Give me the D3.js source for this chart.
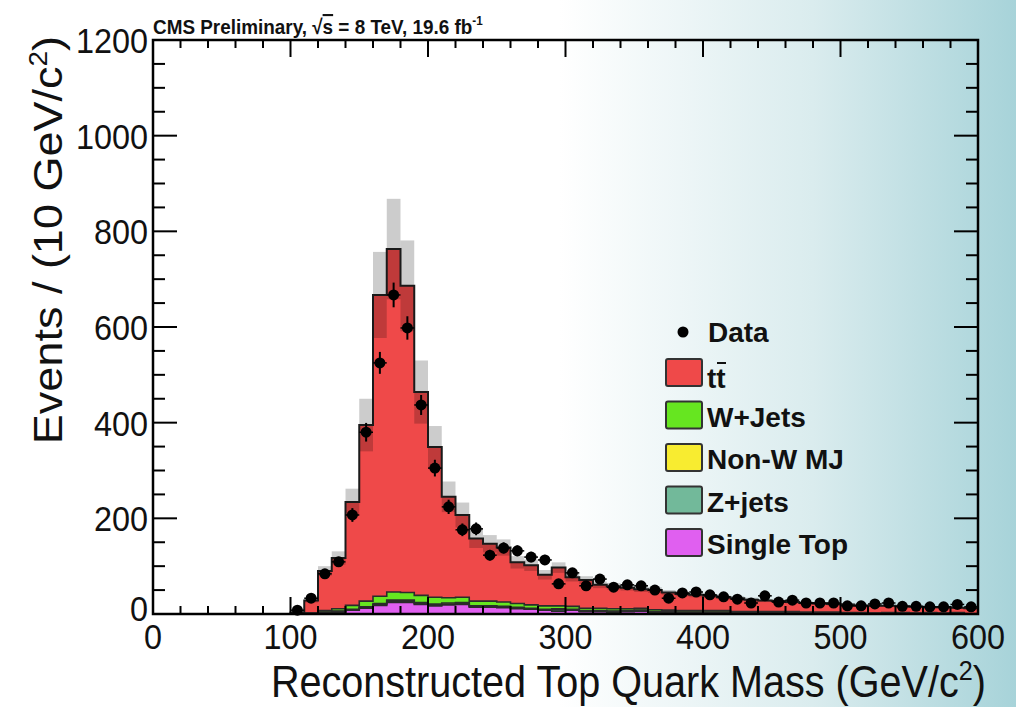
<!DOCTYPE html>
<meta charset="utf-8">
<html>
<head>
<style>
  html, body { margin: 0; padding: 0; background: #fff; }
  svg text { font-family: "Liberation Sans", Arial, Helvetica, sans-serif; }
</style>
</head>
<body>
<div id="chart"></div>
<script src="https://cdn.jsdelivr.net/npm/d3@7"></script>
<script>

// bin lower edges, 10 GeV wide, 100 .. 590
var binLo = d3.range(100, 600, 10);

// stacked MC (events per bin)
var tt = [3, 26, 83, 106, 216, 368, 630, 717, 641, 425,
          314, 211, 172, 131, 120, 114, 86, 83, 65, 80,
          61, 59, 49, 47, 44, 40, 41, 37, 35, 33,
          31, 28, 28, 25, 23, 22, 20, 19, 18, 17,
          17, 15, 15, 14, 13, 13, 11, 12, 10, 11];
var wJets = [0, 1, 3, 5, 8, 12, 15, 17, 16, 15,
             14, 11, 11, 10, 10, 9, 8, 7, 7, 6,
             6, 5, 5, 5, 4, 4, 4, 3, 3, 3,
             3, 3, 2, 2, 2, 2, 2, 2, 2, 2,
             1, 1, 1, 1, 1, 1, 1, 1, 1, 1];
var nonW = [0, 0, 1, 1, 1, 1, 2, 2, 2, 2,
            2, 2, 2, 1, 1, 1, 1, 1, 1, 2,
            1, 1, 1, 1, 1, 1, 1, 1, 1, 1,
            1, 1, 1, 1, 1, 1, 1, 0, 0, 0,
            0, 0, 0, 0, 0, 0, 0, 0, 0, 0];
var zJets = [0, 0, 1, 1, 1, 2, 2, 3, 3, 2,
             2, 2, 2, 2, 2, 2, 2, 1, 1, 3,
             1, 1, 1, 1, 1, 1, 1, 1, 1, 1,
             1, 1, 1, 1, 1, 1, 1, 1, 1, 1,
             1, 1, 1, 1, 1, 1, 1, 1, 1, 0];
var singleTop = [0, 1, 2, 4, 8, 12, 18, 24, 24, 20,
                 17, 19, 20, 14, 14, 13, 11, 10, 8, 6,
                 8, 5, 5, 4, 5, 6, 3, 3, 2, 2,
                 2, 2, 1, 1, 1, 1, 1, 1, 1, 1,
                 1, 1, 0, 1, 1, 0, 1, 0, 1, 0];
// absolute systematic band half-width
var mcUnc = [1, 4, 10, 14, 28, 55, 90, 105, 95, 66,
             44, 32, 26, 20, 18, 17, 13, 12, 10, 11,
             9, 8, 7, 7, 6, 6, 6, 5, 5, 5,
             4, 4, 4, 4, 3, 3, 3, 3, 3, 3,
             2, 2, 2, 2, 2, 2, 2, 2, 2, 2];
// data
var dataVals = [8, 33, 84, 109, 207, 380, 525, 667, 598, 437,
                305, 224, 176, 178, 123, 138, 132, 119, 113, 63,
                86, 59, 73, 56, 61, 59, 50, 33, 44, 46,
                40, 36, 31, 23, 38, 25, 29, 23, 23, 23,
                17, 17, 21, 23, 16, 16, 15, 15, 20, 15];

var xTicks = [0, 100, 200, 300, 400, 500, 600];
var yTicks = [0, 200, 400, 600, 800, 1000, 1200];

var layers = [
  {key: "singleTop", label: "Single Top", color: "#e05ff0"},
  {key: "zJets", label: "Z+jets", color: "#72b99a"},
  {key: "nonW", label: "Non-W MJ", color: "#f8ec30"},
  {key: "wJets", label: "W+Jets", color: "#66e620"},
  {key: "tt", label: "tt", color: "#ef4949"}
];

var width = 1016, height = 707;
var x0 = 153, x1 = 978, yTop = 40, yBot = 614;
var squeeze = 0.9;   // the original picture is narrowed a little

var x = d3.scaleLinear().domain([0, 600]).range([x0, x1]);
var y = d3.scaleLinear().domain([0, 1200]).range([yBot, yTop]);

var rows = binLo.map(function(lo, i) {
  return {lo: lo, hi: lo + 10, singleTop: singleTop[i], zJets: zJets[i],
          nonW: nonW[i], wJets: wJets[i], tt: tt[i]};
});

var svg = d3.select("#chart").append("svg")
    .attr("width", width)
    .attr("height", height);

// background fades to light teal on the right
var grad = svg.append("defs").append("linearGradient")
    .attr("id", "bg").attr("x1", 0).attr("x2", 1).attr("y1", 0).attr("y2", 0);
grad.append("stop").attr("offset", 0.55).attr("stop-color", "#ffffff");
grad.append("stop").attr("offset", 0.8).attr("stop-color", "#daecee");
grad.append("stop").attr("offset", 1).attr("stop-color", "#a7d3d9");
svg.append("rect").attr("width", width).attr("height", height).attr("fill", "url(#bg)");

var stack = d3.stack().keys(layers.map(function(l) { return l.key; }));
var series = stack(rows);

// step points: each bin gives its two edges
function stepPts(s) {
  var pts = [];
  s.forEach(function(d) {
    pts.push({x: d.data.lo, y0: d[0], y1: d[1]});
    pts.push({x: d.data.hi, y0: d[0], y1: d[1]});
  });
  return pts;
}

var area = d3.area()
    .x(function(d) { return x(d.x); })
    .y0(function(d) { return y(d.y0); })
    .y1(function(d) { return y(d.y1); });

var line = d3.line()
    .x(function(d) { return x(d.x); })
    .y(function(d) { return y(d.y1); });

var plot = svg.append("g");

series.forEach(function(s, i) {
  plot.append("path")
      .attr("d", area(stepPts(s)))
      .attr("fill", layers[i].color);
});

// uncertainty band on total MC
var totals = rows.map(function(r) { return r.singleTop + r.zJets + r.nonW + r.wJets + r.tt; });
plot.selectAll("rect.band")
    .data(rows)
    .enter().append("rect")
    .attr("class", "band")
    .attr("x", function(d) { return x(d.lo); })
    .attr("width", function(d) { return x(d.hi) - x(d.lo); })
    .attr("y", function(d, i) { return y(totals[i] + mcUnc[i]); })
    .attr("height", function(d, i) { return y(Math.max(0, totals[i] - mcUnc[i])) - y(totals[i] + mcUnc[i]); })
    .attr("fill", "#000")
    .attr("fill-opacity", 0.2);

// step outlines
series.forEach(function(s, i) {
  var pts = stepPts(s);
  pts.unshift({x: 100, y1: s[0][0]});
  pts.push({x: 600, y1: s[s.length - 1][0]});
  plot.append("path")
      .attr("d", line(pts))
      .attr("fill", "none")
      .attr("stroke", i == 4 ? "#1a1a1a" : "#2b2b2b")
      .attr("stroke-width", i == 4 ? 2 : 1.6);
});

// data points with errors
var dg = plot.append("g");
binLo.forEach(function(lo, i) {
  var v = dataVals[i], cx = x(lo + 5), e = Math.sqrt(v);
  dg.append("line")
      .attr("x1", cx).attr("x2", cx)
      .attr("y1", y(v - e)).attr("y2", y(v + e))
      .attr("stroke", "#000").attr("stroke-width", 2);
  dg.append("line")
      .attr("x1", x(lo)).attr("x2", x(lo + 10))
      .attr("y1", y(v)).attr("y2", y(v))
      .attr("stroke", "#000").attr("stroke-width", 1.5);
  dg.append("circle")
      .attr("cx", cx).attr("cy", y(v)).attr("r", 5.5)
      .attr("fill", "#000");
});

// frame
svg.append("rect")
    .attr("x", x0).attr("y", yTop)
    .attr("width", x1 - x0).attr("height", yBot - yTop)
    .attr("fill", "none").attr("stroke", "#000").attr("stroke-width", 2.5);

// inward ticks, ROOT style
var tk = svg.append("g").attr("stroke", "#000").attr("stroke-width", 2);
d3.range(0, 601, 20).forEach(function(v) {
  var len = v % 100 == 0 ? 17 : 8;
  tk.append("line").attr("x1", x(v)).attr("x2", x(v)).attr("y1", yBot).attr("y2", yBot - len);
  tk.append("line").attr("x1", x(v)).attr("x2", x(v)).attr("y1", yTop).attr("y2", yTop + len);
});
d3.range(0, 1201, 50).forEach(function(v) {
  var len = v % 200 == 0 ? 24 : 12;
  tk.append("line").attr("x1", x0).attr("x2", x0 + len).attr("y1", y(v)).attr("y2", y(v));
  tk.append("line").attr("x1", x1).attr("x2", x1 - len).attr("y1", y(v)).attr("y2", y(v));
});

// horizontal text narrowed like the source picture
function sqText(px, py) {
  return svg.append("g")
      .attr("transform", "translate(" + px + "," + py + ") scale(" + squeeze + ",1)")
      .append("text").attr("fill", "#111");
}

// tick labels
xTicks.forEach(function(d) {
  sqText(x(d), 649)
      .attr("text-anchor", "middle")
      .attr("font-size", 36)
      .text(d);
});
yTicks.forEach(function(d) {
  sqText(148, y(d) + (d == 0 ? 7 : 13))
      .attr("text-anchor", "end")
      .attr("font-size", 36)
      .text(d);
});

// axis titles
var xt = sqText(986, 697)
    .attr("text-anchor", "end")
    .attr("font-size", 44);
xt.append("tspan").text("Reconstructed Top Quark Mass (GeV/c");
xt.append("tspan").attr("font-size", 28).attr("dy", -17).text("2");
xt.append("tspan").attr("dy", 17).text(")");

var yt = svg.append("g")
    .attr("transform", "translate(62,36) scale(" + squeeze + ",1) rotate(-90)")
    .append("text")
    .attr("text-anchor", "end")
    .attr("font-size", 45)
    .attr("fill", "#111");
yt.append("tspan").text("Events / (10 GeV/c");
yt.append("tspan").attr("font-size", 28).attr("dy", -17).text("2");
yt.append("tspan").attr("dy", 17).text(")");

// top label
var tl = sqText(153, 34)
    .attr("font-size", 21)
    .attr("font-weight", "bold");
tl.append("tspan").text("CMS Preliminary, √");
tl.append("tspan").style("text-decoration", "overline").text("s");
tl.append("tspan").text(" = 8 TeV, 19.6 fb");
tl.append("tspan").attr("font-size", 13).attr("dy", -9).text("-1");

// legend
var lg = svg.append("g").attr("transform", "translate(665,332)");
lg.append("circle").attr("cx", 18).attr("cy", 0).attr("r", 5.5).attr("fill", "#000");
lg.append("text").attr("x", 43).attr("y", 10)
    .attr("font-size", 28).attr("font-weight", "bold").attr("fill", "#111").text("Data");

var legOrder = layers.slice().reverse();
legOrder.forEach(function(l, i) {
  var gy = 27 + i * 42.5;
  lg.append("rect")
      .attr("x", 1).attr("y", gy)
      .attr("width", 36).attr("height", 27)
      .attr("rx", 2)
      .attr("fill", l.color)
      .attr("stroke", "#333").attr("stroke-width", 2);
  lg.append("text")
      .attr("x", 42).attr("y", gy + (l.key == "tt" ? 29 : 25))
      .attr("font-size", 28).attr("font-weight", "bold").attr("fill", "#111")
      .text(l.label);
  if (l.key == "tt") {
    // bar over the second t
    lg.append("line")
        .attr("x1", 52).attr("x2", 61)
        .attr("y1", gy + 4).attr("y2", gy + 4)
        .attr("stroke", "#111").attr("stroke-width", 2);
  }
});

</script>
</body>
</html>
